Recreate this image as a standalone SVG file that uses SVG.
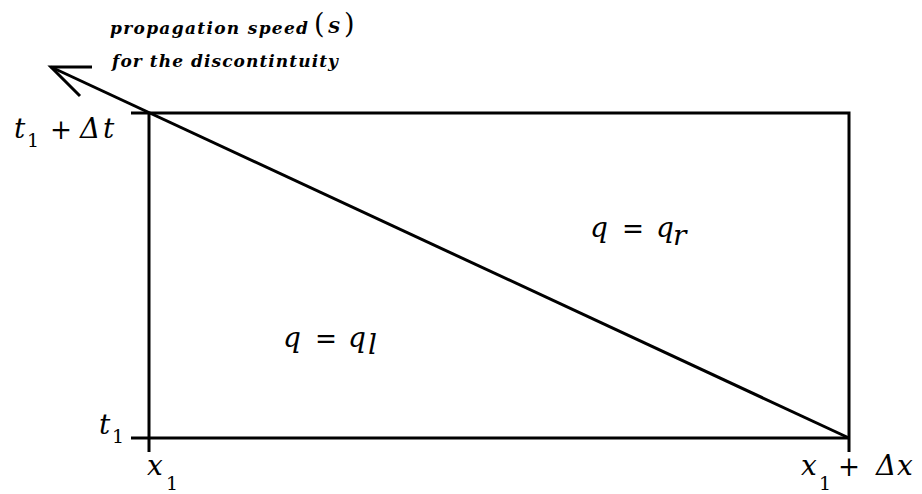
<svg xmlns="http://www.w3.org/2000/svg" width="922" height="494" viewBox="0 0 922 494">
<style>
.ln{stroke:#000;stroke-width:3;fill:none;stroke-linecap:butt}
text{font-family:"DejaVu Serif","Liberation Serif",serif;fill:#000}
.m{font-style:italic;font-size:28px}
.u{font-style:normal;font-size:27px}
.s{font-style:normal;font-size:19px}
.a{font-style:italic;font-weight:bold;font-size:17px}
</style>
<rect width="922" height="494" fill="#fff"/>
<g id="box">
<path class="ln" d="M131,113 H849 V452 M131,438 H849 M149,113 V452"/>
</g>
<g id="connectors">
<path class="ln" d="M849,438 L51,67"/>
<path class="ln" d="M92,67 H51 L80,96"/>
</g>
<g id="annotation">
<text class="a" x="110" y="34" textLength="198" lengthAdjust="spacing">propagation speed</text>
<text class="u" x="314" y="33" font-size="34" font-family="Liberation Serif">(</text>
<text class="a" x="328" y="33" font-size="20">S</text>
<text class="u" x="344" y="33" font-size="34" font-family="Liberation Serif">)</text>
<text class="a" x="112" y="67" textLength="226" lengthAdjust="spacing">for the discontintuity</text>
</g>
<g id="label-t1dt">
<text class="m" x="14" y="138">t</text>
<text class="s" x="27" y="147">1</text>
<text class="u" x="50" y="139" textLength="22" lengthAdjust="spacingAndGlyphs">+</text>
<text class="m" x="80" y="138">Δ</text>
<text class="m" x="103" y="138">t</text>
</g>
<g id="label-t1">
<text class="m" x="99" y="434">t</text>
<text class="s" x="112" y="443">1</text>
</g>
<g id="label-x1">
<text class="m" x="147" y="475">x</text>
<text class="s" x="166" y="490">1</text>
</g>
<g id="label-x1dx">
<text class="m" x="801" y="475">x</text>
<text class="s" x="819" y="490">1</text>
<text class="u" x="838" y="476" textLength="22" lengthAdjust="spacingAndGlyphs">+</text>
<text class="m" x="876" y="475">Δ</text>
<text class="m" x="897" y="475">x</text>
</g>
<g id="label-qr">
<text class="m" x="590" y="237">q</text>
<text class="u" x="622" y="238" textLength="22" lengthAdjust="spacingAndGlyphs">=</text>
<text class="m" x="656" y="237">q</text>
<text class="m" x="673" y="245" font-size="19">r</text>
</g>
<g id="label-ql">
<text class="m" x="283" y="347">q</text>
<text class="u" x="315" y="348" textLength="22" lengthAdjust="spacingAndGlyphs">=</text>
<text class="m" x="348" y="347">q</text>
<text class="m" x="368" y="354" font-size="19">l</text>
</g>
</svg>
